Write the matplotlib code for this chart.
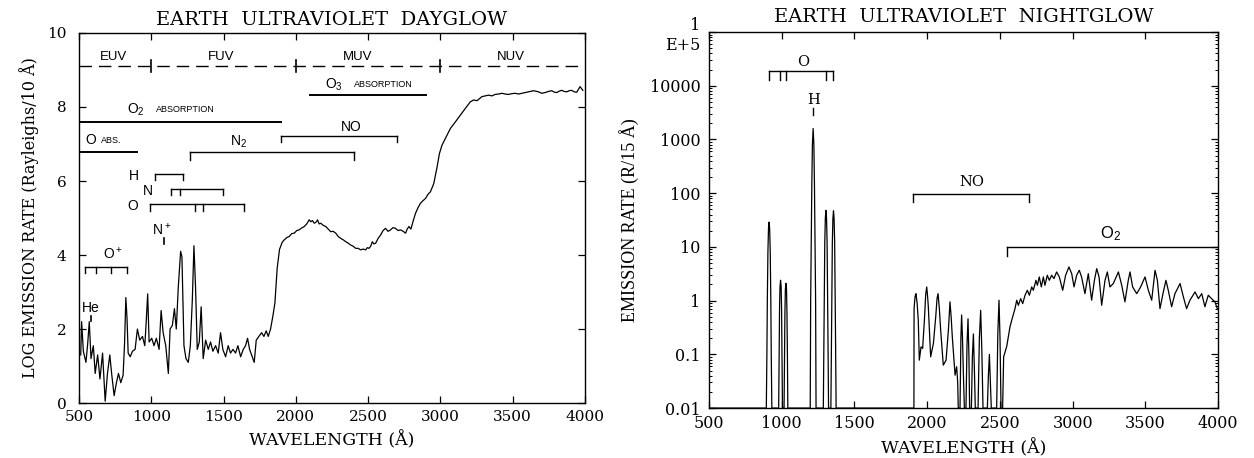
import numpy as np
import matplotlib.pyplot as plt
from matplotlib.ticker import FixedLocator, FixedFormatter, NullFormatter

plt.rcParams['font.family'] = 'DejaVu Serif'
plt.rcParams['mathtext.fontset'] = 'custom'
plt.rcParams['mathtext.rm'] = 'Liberation Sans'
plt.rcParams['mathtext.default'] = 'regular'

#-------------------- dayglow spectrum: wavelength (A), log10 rate (R / 10 A) --------------------

day_wl = [512, 518, 530, 548, 560, 571, 583, 599, 612, 629, 645, 663, 681, 697, 713, 727,
          743, 759, 773, 789, 805, 815, 824, 832, 840, 854, 870, 888, 904, 920, 939, 955,
          965, 975, 985, 1003, 1019, 1035, 1054, 1068, 1082, 1100, 1118, 1130, 1146, 1160,
          1173, 1187, 1203, 1212, 1226, 1240, 1256, 1270, 1284, 1295, 1306, 1318, 1332,
          1345, 1359, 1376, 1394, 1410, 1426, 1445, 1463, 1479, 1495, 1514, 1532, 1548,
          1565, 1583, 1599, 1618, 1636, 1652, 1666, 1680, 1698, 1712, 1726, 1744, 1763,
          1779, 1795, 1809, 1825, 1841, 1855, 1871, 1887, 1906,
          1920, 1937, 1954, 1972, 1989, 2006, 2023, 2040, 2058, 2075, 2092, 2104, 2115,
          2127, 2138, 2150, 2161, 2172, 2190, 2207, 2224, 2241, 2258, 2276, 2293, 2310,
          2328, 2345, 2362, 2379, 2396, 2414, 2431, 2448, 2466, 2483, 2495, 2506, 2518,
          2529, 2540, 2552, 2569, 2586, 2603, 2620, 2638, 2655, 2672, 2690, 2707, 2724,
          2742, 2759, 2770, 2782, 2796, 2810, 2828, 2845, 2862, 2880, 2897, 2914, 2931,
          2954, 2977, 2993, 3011, 3034,
          3069, 3104, 3138, 3172, 3207, 3230, 3253, 3287, 3310, 3333, 3356, 3379, 3402,
          3425, 3448, 3471, 3494, 3517, 3540, 3563, 3586, 3609, 3644, 3678, 3701, 3724,
          3747, 3770, 3788, 3805, 3822, 3839, 3856, 3874, 3891, 3908, 3925, 3943, 3966, 3985]
day_log = [1.3, 2.2, 1.4, 1.1, 1.6, 2.2, 1.2, 1.55, 0.8, 1.3, 0.65, 1.35, 0.05, 0.8, 1.3, 0.75,
           0.2, 0.55, 0.8, 0.55, 0.75, 1.6, 2.85, 2.3, 1.35, 1.25, 1.4, 1.45, 2.0, 1.7, 1.8, 1.55,
           2.2, 2.95, 1.65, 1.75, 1.55, 1.75, 1.45, 2.5, 1.9, 1.55, 0.8, 2.0, 2.1, 2.55,
           2.0, 3.15, 4.1, 3.95, 1.55, 1.2, 1.1, 1.55, 2.8, 4.25, 3.15, 1.45, 1.65,
           2.6, 1.2, 1.7, 1.45, 1.65, 1.4, 1.55, 1.35, 1.9, 1.45, 1.25, 1.55, 1.35,
           1.45, 1.35, 1.55, 1.25, 1.45, 1.55, 1.75, 1.45, 1.25, 1.1, 1.7, 1.8, 1.9,
           1.8, 1.95, 1.8, 2.0, 2.35, 2.7, 3.65, 4.15, 4.35,
           4.41, 4.47, 4.50, 4.58, 4.59, 4.66, 4.68, 4.73, 4.77, 4.84, 4.95, 4.90, 4.93,
           4.86, 4.88, 4.95, 4.84, 4.86, 4.80, 4.77, 4.70, 4.63, 4.64, 4.59, 4.50, 4.45,
           4.41, 4.36, 4.32, 4.27, 4.24, 4.18, 4.18, 4.14, 4.16, 4.14, 4.20, 4.18, 4.24,
           4.36, 4.30, 4.32, 4.45, 4.54, 4.66, 4.72, 4.64, 4.68, 4.74, 4.72, 4.66, 4.68,
           4.64, 4.59, 4.70, 4.77, 4.70, 4.90, 5.13, 5.28, 5.40, 5.47, 5.53, 5.64, 5.71,
           5.93, 6.38, 6.74, 6.97, 7.15,
           7.42, 7.60, 7.78, 7.96, 8.14, 8.19, 8.17, 8.28, 8.30, 8.32, 8.30, 8.34, 8.35,
           8.37, 8.35, 8.34, 8.36, 8.37, 8.35, 8.37, 8.39, 8.41, 8.44, 8.41, 8.37, 8.39,
           8.42, 8.44, 8.40, 8.39, 8.43, 8.45, 8.42, 8.41, 8.44, 8.45, 8.41, 8.40, 8.55, 8.45]

#-------------------- nightglow spectrum: wavelength (A), rate (R / 15 A) --------------------

night_wl = [500, 894, 898, 901, 905, 909, 913, 917, 921, 925, 928, 932,
            979, 982, 985, 988, 992, 996, 999, 1002, 1005,
            1016, 1019, 1022, 1025, 1029, 1033, 1036, 1039, 1042,
            1196, 1199, 1203, 1207, 1211, 1216, 1221, 1225, 1229, 1233, 1236,
            1286, 1289, 1292, 1296, 1300, 1304, 1308, 1312, 1316, 1319, 1322,
            1338, 1341, 1344, 1348, 1352, 1356, 1360, 1364, 1368, 1371, 1374,
            1909, 1910, 1917, 1923, 1931, 1939, 1946, 1958, 1969, 1981, 1990, 1997, 2003,
            2008, 2016, 2024, 2043, 2059, 2068, 2075, 2084, 2093, 2111, 2130, 2146, 2157,
            2165, 2173, 2192, 2203, 2210, 2214, 2226, 2232, 2237, 2243, 2249, 2256, 2267,
            2274, 2281, 2287, 2292, 2304, 2311, 2318, 2325, 2331, 2350, 2359, 2368, 2376,
            2384, 2414, 2421, 2428, 2435, 2441, 2478, 2486, 2494, 2501, 2508, 2519, 2526,
            2547, 2570, 2588, 2604, 2616, 2627, 2643, 2657, 2673, 2689, 2703, 2719, 2730,
            2748, 2758, 2771, 2785, 2799, 2810, 2826, 2840, 2856, 2872, 2890, 2909, 2932,
            2952, 2975, 2994, 3010, 3028, 3046, 3062, 3085, 3108, 3131, 3150, 3166, 3182,
            3200, 3223, 3239, 3257, 3280, 3315, 3338, 3360, 3383, 3395, 3413, 3441, 3468,
            3498, 3521, 3544, 3567, 3583, 3601, 3624, 3642, 3658, 3681, 3704, 3739, 3762,
            3784, 3807, 3842, 3865, 3888, 3910, 3933, 3956, 3979, 3995]
night_rate = [0.01, 0.01, 0.1, 1, 8, 22, 29, 22, 8, 1, 0.1, 0.01,
              0.01, 0.1, 0.7, 1.8, 2.4, 1.8, 0.7, 0.1, 0.01,
              0.01, 0.1, 0.6, 1.6, 2.1, 1.6, 0.6, 0.1, 0.01,
              0.01, 1, 15, 150, 800, 1600, 800, 150, 15, 1, 0.01,
              0.01, 0.1, 1, 12, 35, 48, 35, 12, 1, 0.1, 0.01,
              0.01, 0.1, 1, 12, 34, 47, 34, 12, 1, 0.1, 0.01,
              0.01, 0.71, 1.2, 1.35, 0.9, 0.43, 0.078, 0.138, 0.129, 0.43, 1.3, 1.8, 1.2,
              0.77, 0.25, 0.09, 0.16, 0.5, 1.1, 1.35, 0.7, 0.28, 0.063, 0.078, 0.28, 0.95,
              0.5, 0.21, 0.041, 0.059, 0.03, 0.01, 0.01, 0.2, 0.54, 0.2, 0.044, 0.01, 0.01,
              0.15, 0.46, 0.1, 0.01, 0.01, 0.09, 0.24, 0.05, 0.01, 0.01, 0.2, 0.66, 0.12,
              0.01, 0.01, 0.04, 0.10, 0.03, 0.01, 0.01, 0.25, 1.02, 0.2, 0.01, 0.01, 0.09,
              0.14, 0.33, 0.5, 0.71, 1.02, 0.82, 1.09, 0.88, 1.26, 1.56, 1.26, 1.8, 1.56,
              2.39, 1.93, 2.76, 1.8, 2.76, 1.93, 2.97, 2.39, 2.97, 2.57, 3.42, 2.76, 1.56,
              2.97, 4.24, 3.18, 1.8, 2.97, 3.67, 2.76, 1.35, 3.18, 1.02, 2.39, 3.94, 2.76,
              0.82, 2.39, 3.42, 1.8, 2.08, 3.42, 1.93, 0.95, 2.39, 3.42, 1.8, 1.35, 1.8,
              2.76, 1.56, 1.02, 3.67, 2.39, 0.71, 1.45, 2.39, 1.56, 0.77, 1.35, 2.08, 1.17,
              0.71, 1.02, 1.45, 1.09, 1.35, 0.77, 1.26, 1.09, 0.95, 0.71]

# spectral regions (dayglow panel)
band_names = ['EUV', 'FUV', 'MUV', 'NUV']
band_centres = [740, 1480, 2430, 3490]
band_edges = [1000, 2000, 3000]

# line groups (A)
h_day = [1026, 1216]
n_day = [1134, 1200, 1493]
o_day = [989, 1304, 1356, 1641]
o_plus = [539, 617, 718, 834]
he_line = 584
n_plus_line = 1085
n2_band = [1270, 2400]
no_band = [1900, 2700]
o3_abs = [2100, 2900]
o2_abs = [500, 1900]
o_abs = [500, 900]

o_night = [911, 989, 1027, 1304, 1356]
h_night = 1216
no_night = [1900, 2700]
o2_night = [2550, 4000]

wl_ticks = [500, 1000, 1500, 2000, 2500, 3000, 3500, 4000]
day_ticks = [0, 2, 4, 6, 8, 10]
night_ticks = [0.01, 0.1, 1, 10, 100, 1000, 10000, 1e5]
night_labels = ['0.01', '0.1', '1', '10', '100', '1000', '10000', '1\nE+5']


def bracket(ax, lines, y, y_end, lw=1.0):
    """Horizontal bar over a group of lines with drop ticks at every line."""
    ax.plot([lines[0], lines[-1]], [y, y], color='k', lw=lw)
    for x in lines:
        ax.plot([x, x], [y, y_end], color='k', lw=lw)


#------------------ the figure ---------------------------------------------------

fig = plt.figure(figsize=(12.54, 4.58), dpi=100)
ax1 = fig.add_axes([0.063, 0.120, 0.4035, 0.808])
ax2 = fig.add_axes([0.5654, 0.109, 0.4059, 0.821])

sans = 'Liberation Sans'

#   dayglow
ax1.plot(day_wl, day_log, color='k', lw=0.9)
ax1.set_xlim(500, 4000)
ax1.set_ylim(0, 10)
ax1.xaxis.set_major_locator(FixedLocator(wl_ticks))
ax1.yaxis.set_major_locator(FixedLocator(day_ticks))
ax1.tick_params(direction='in', top=True, right=True, length=5, width=0.9,
                labelsize=11)
ax1.tick_params(axis='y', pad=9)
ax1.tick_params(axis='x', pad=5)
ax1.set_xlabel('WAVELENGTH (Å)', fontsize=12.5, labelpad=5)
ax1.set_ylabel('LOG EMISSION RATE (Rayleighs/10 Å)', fontsize=11.5, labelpad=6)
ax1.set_title('EARTH  ULTRAVIOLET  DAYGLOW', fontsize=14, pad=6)

ax1.plot([500, 4000], [9.12, 9.12], color='k', lw=1.0, dashes=(9, 5))
for x in band_edges:
    ax1.plot([x, x], [8.95, 9.27], color='k', lw=1.2)
for name, x in zip(band_names, band_centres):
    ax1.text(x, 9.36, name, fontsize=9.5, family=sans, ha='center', va='center')

ax1.plot(o3_abs, [8.32, 8.32], color='k', lw=1.4)
ax1.text(2200, 8.6, 'O$_3$', fontsize=10, family=sans, ha='left', va='center')
ax1.text(2400, 8.6, 'ABSORPTION', fontsize=6.5, family=sans, ha='left', va='center')

ax1.plot(o2_abs, [7.6, 7.6], color='k', lw=1.4)
ax1.text(830, 7.92, 'O$_2$', fontsize=10, family=sans, ha='left', va='center')
ax1.text(1035, 7.92, 'ABSORPTION', fontsize=6.5, family=sans, ha='left', va='center')

ax1.plot(o_abs, [6.79, 6.79], color='k', lw=1.4)
ax1.text(545, 7.1, 'O', fontsize=10, family=sans, ha='left', va='center')
ax1.text(655, 7.1, 'ABS.', fontsize=6.5, family=sans, ha='left', va='center')

bracket(ax1, no_band, 7.22, 7.05)
ax1.text(2380, 7.47, 'NO', fontsize=10, family=sans, ha='center', va='center')
bracket(ax1, n2_band, 6.79, 6.58)
ax1.text(1600, 7.06, 'N$_2$', fontsize=10, family=sans, ha='center', va='center')

bracket(ax1, h_day, 6.19, 6.03)
ax1.text(883, 6.14, 'H', fontsize=10, family=sans, ha='center', va='center')
bracket(ax1, n_day, 5.78, 5.62)
ax1.text(973, 5.72, 'N', fontsize=10, family=sans, ha='center', va='center')
bracket(ax1, o_day, 5.38, 5.2)
ax1.text(874, 5.32, 'O', fontsize=10, family=sans, ha='center', va='center')

bracket(ax1, o_plus, 3.68, 3.52)
ax1.text(735, 4.05, 'O$^+$', fontsize=10, family=sans, ha='center', va='center')
ax1.plot([n_plus_line, n_plus_line], [4.3, 4.45], color='k', lw=1.2)
ax1.text(n_plus_line - 10, 4.7, 'N$^+$', fontsize=10, family=sans, ha='center', va='center')
ax1.plot([he_line, he_line], [2.22, 2.35], color='k', lw=1.2)
ax1.text(he_line, 2.57, 'He', fontsize=10, family=sans, ha='center', va='center')

#   nightglow
ax2.plot(night_wl, night_rate, color='k', lw=0.9)
ax2.set_yscale('log')
ax2.set_xlim(500, 4000)
ax2.set_ylim(0.01, 1e5)
ax2.xaxis.set_major_locator(FixedLocator(wl_ticks))
ax2.yaxis.set_major_locator(FixedLocator(night_ticks))
ax2.yaxis.set_major_formatter(FixedFormatter(night_labels))
minor = [m * 10.0 ** e for e in range(-2, 5) for m in range(2, 10)]
ax2.yaxis.set_minor_locator(FixedLocator(minor))
ax2.yaxis.set_minor_formatter(NullFormatter())
ax2.tick_params(direction='in', top=True, right=True, length=5, width=0.9,
                labelsize=11.5)
ax2.tick_params(which='minor', direction='in', right=True, length=2.5, width=0.7)
ax2.tick_params(axis='y', pad=6)
ax2.tick_params(axis='x', pad=5)
ax2.set_xlabel('WAVELENGTH (Å)', fontsize=12.5, labelpad=5)
ax2.set_ylabel('EMISSION RATE (R/15 Å)', fontsize=13, family='Liberation Serif',
               labelpad=8)
ax2.set_title('EARTH  ULTRAVIOLET  NIGHTGLOW', fontsize=14, pad=7)

bracket(ax2, o_night, 1.9e4, 1.3e4)
ax2.text(1150, 2.8e4, 'O', fontsize=10.5, ha='center', va='center')
ax2.plot([h_night, h_night], [2800, 3900], color='k', lw=1.0)
ax2.text(h_night, 5400, 'H', fontsize=10.5, ha='center', va='center')
bracket(ax2, no_night, 95, 68)
ax2.text(2310, 160, 'NO', fontsize=10.5, ha='center', va='center')
ax2.plot(o2_night, [10, 10], color='k', lw=1.0)
ax2.plot([o2_night[0], o2_night[0]], [10, 6.7], color='k', lw=1.0)
ax2.text(3260, 18, 'O$_2$', fontsize=12, family=sans, ha='center', va='center')

for ax in (ax1, ax2):
    for s in ax.spines.values():
        s.set_linewidth(1.0)

fig.savefig('out.png', dpi=100)
